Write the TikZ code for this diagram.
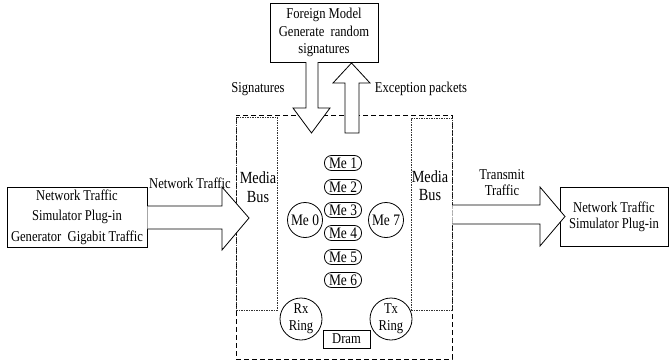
\documentclass[tikz,border=0pt]{standalone}
\usepackage{fontspec}
\setmainfont{Liberation Serif}[FakeStretch=0.84]
\begin{document}
\begin{tikzpicture}[x=1pt,y=-1pt,
  txt/.style={font=\fontsize{15}{17}\selectfont, inner sep=0pt, align=center},
  box/.style={draw, line width=0.8pt, inner sep=0pt, align=center, font=\fontsize{15}{17}\selectfont},
  me/.style={draw, line width=0.8pt, rounded corners=7pt, minimum width=37pt, minimum height=15pt, inner sep=0pt, font=\fontsize{16}{17}\selectfont},
  ring/.style={draw, circle, line width=0.8pt, inner sep=0pt, align=center, font=\fontsize{15}{17}\selectfont},
  blockarrow/.style={draw, line width=0.8pt, fill=white, line join=miter},
  outerdash/.style={draw, line width=0.8pt, dash pattern=on 5pt off 3pt},
  busdot/.style={draw, line width=0.8pt, dash pattern=on 1.5pt off 1pt, black!80}
]
\useasboundingbox (0,0) rectangle (670,362);
% outer dashed chip
\node[outerdash, minimum width=216pt, minimum height=244pt, inner sep=0pt] (chip) at (344,237) {};
% media buses
\node[busdot, minimum width=41pt, minimum height=193pt, inner sep=0pt] (busL) at (256.5,213.5) {};
\node[busdot, minimum width=41pt, minimum height=192pt, inner sep=0pt] (busR) at (431.5,214) {};
\node[txt, font=\fontsize{17}{19}\selectfont] (busLt) at (258,187) {Media\\Bus};
\node[txt, font=\fontsize{17}{18}\selectfont] (busRt) at (430,185.5) {Media\\Bus};
% boxes
\node[box, minimum width=108pt, minimum height=59pt, font=\fontsize{15}{17.5}\selectfont] (foreign) at (324,32.5) {Foreign Model\\Generate\ \ random\\signatures};
\node[box, minimum width=140pt, minimum height=60pt, font=\fontsize{15}{20.5}\selectfont] (src) at (77,217) {Network Traffic\\Simulator Plug-in\\Generator\ \ Gigabit Traffic};
\node[box, minimum width=108pt, minimum height=59pt, font=\fontsize{15}{16}\selectfont] (dst) at (614,216.5) {Network Traffic\\Simulator Plug-in};
% block arrows
\draw[blockarrow] (src.east |- 0,206) -- (222,206) -- (222,187) -- (249,218) -- (222,250) -- (222,229) -- (src.east |- 0,229);
\draw[blockarrow] (busR.east |- 0,205) -- (540,205) -- (540,187) -- (565,216.5) -- (540,246) -- (540,224) -- (busR.east |- 0,224);
\draw[blockarrow] (306,62) -- (306,108) -- (293,108) -- (311.5,133) -- (330,108) -- (318,108) -- (318,62);
\draw[blockarrow] (345,133) -- (345,83) -- (333,83) -- (351.5,63) -- (370,83) -- (359,83) -- (359,133) -- cycle;
% labels
\node[txt] (lblNT) at (190,183) {Network Traffic};
\node[txt] (lblSig) at (258,89) {Signatures};
\node[txt] (lblExc) at (421,89) {Exception packets};
\node[txt, font=\fontsize{15}{16}\selectfont] (lblTT) at (502,183) {Transmit\\Traffic};
% microengines
\node[me] (me1) at (343,163) {Me 1};
\node[me] (me2) at (343,187) {Me 2};
\node[me] (me3) at (343,210) {Me 3};
\node[me] (me4) at (343,233) {Me 4};
\node[me] (me5) at (343,257) {Me 5};
\node[me] (me6) at (343,280) {Me 6};
\node[ring, minimum size=35pt, font=\fontsize{16}{17}\selectfont] (me0) at (305,220) {Me 0};
\node[ring, minimum size=35pt, font=\fontsize{16}{17}\selectfont] (me7) at (386,220) {Me 7};
\node[ring, minimum size=42pt] (rx) at (301,319) {Rx\\Ring};
\node[ring, minimum size=42pt] (tx) at (391,319) {Tx\\Ring};
\node[box, minimum width=47pt, minimum height=18pt] (dram) at (346.5,339) {Dram};
\end{tikzpicture}
\end{document}
